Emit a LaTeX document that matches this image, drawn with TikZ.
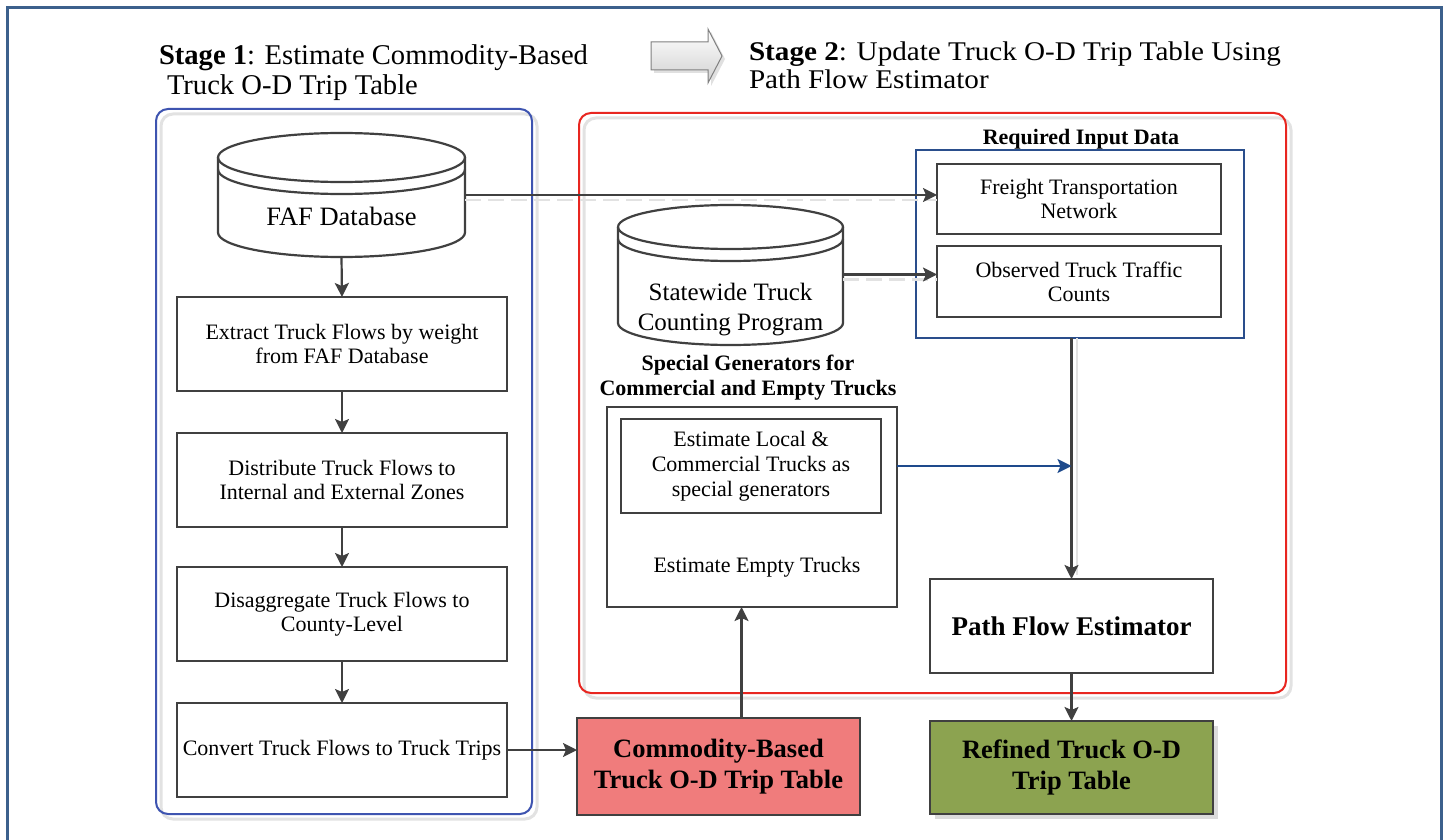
\documentclass[tikz,border=0pt]{standalone}
\usepackage{fontspec}
\setmainfont{Liberation Serif}
\newfontfamily\widehead[FakeStretch=1.08]{Liberation Serif}
\usetikzlibrary{arrows.meta,calc,shadows}

\definecolor{framec}{RGB}{60,96,140}
\definecolor{boxline}{RGB}{64,64,64}
\definecolor{stageblue}{RGB}{62,84,176}
\definecolor{stagered}{RGB}{232,38,32}
\definecolor{inputblue}{RGB}{42,78,140}
\definecolor{flowblue}{RGB}{30,74,140}
\definecolor{salmonfill}{RGB}{240,124,124}
\definecolor{olivefill}{RGB}{140,163,80}
\definecolor{shade}{RGB}{226,226,226}
\definecolor{arrowgray}{RGB}{128,128,128}

\newcommand{\pxfont}[2]{\fontsize{#1pt}{#2pt}\selectfont}

% database drum: #1 left, #2 right, #3 top-ellipse centre y, #4 bottom-ellipse centre y, #5 y radius
\newcommand{\drum}[5]{%
  \pgfmathsetmacro{\drumrx}{(#2-#1)/2}%
  \pgfmathsetmacro{\drumcx}{(#1+#2)/2}%
  \fill[white] (#1,#3) -- (#1,#4) arc[start angle=180,end angle=360,x radius=\drumrx pt,y radius=#5pt]
     -- (#2,#3) arc[start angle=0,end angle=180,x radius=\drumrx pt,y radius=#5pt] -- cycle;
  \draw[dbline] (#1,#3) -- (#1,#4) arc[start angle=180,end angle=360,x radius=\drumrx pt,y radius=#5pt] -- (#2,#3);
  \draw[dbline] (\drumcx,#3) ellipse[x radius=\drumrx pt,y radius=#5pt];
  \draw[dbline] (#1,#3+12) arc[start angle=180,end angle=360,x radius=\drumrx pt,y radius=#5pt];
}

\begin{document}
\begin{tikzpicture}[x=1pt,y=-1pt,
  every node/.style={inner sep=0pt,outer sep=0pt},
  container/.style={draw,rounded corners=12pt,line width=2pt,fill=none,
    drop shadow={shadow xshift=5pt,shadow yshift=-5pt,fill=none,draw=shade,line width=3pt,opacity=1}},
  proc/.style={draw=boxline,line width=2.2pt,fill=white,align=center,font=\pxfont{22}{24}},
  inbox/.style={draw=boxline,line width=2.2pt,fill=white,align=center,font=\pxfont{22}{24}},
  result/.style={draw=boxline,line width=2.2pt,align=center,font=\bfseries\pxfont{26.5}{31}},
  dbbox/.style={draw=none},
  dbline/.style={draw=boxline,line width=2.2pt},
  flow/.style={draw=boxline,line width=2.2pt,-{Stealth[length=14pt,width=14pt,inset=3pt]}},
  blueflow/.style={draw=flowblue,line width=2pt,-{Stealth[length=14pt,width=14pt,inset=3pt]}},
  connshadow/.style={draw=shade,line width=2.5pt,dash pattern=on 16pt off 7pt},
  heading/.style={anchor=base west,font=\pxfont{28.6}{33}},
  heading2/.style={anchor=base west,font=\widehead\pxfont{27}{30}},
  caption/.style={align=center,font=\bfseries\pxfont{21}{25}}]

\useasboundingbox (0,0) rectangle (1446,840);
\fill[white] (0,0) rectangle (1446,840);

% outer frame, open at the bottom
\draw[framec,line width=3pt] (7,842) -- (7,8) -- (1441,8) -- (1441,842);

% stage headings
\node[heading] (s1a) at (159,65) {\textbf{Stage 1}: Estimate Commodity-Based};
\node[heading] (s1b) at (167,95) {Truck O-D Trip Table};
\node[heading2] (s2a) at (749,61) {\textbf{Stage 2}: Update Truck O-D Trip Table Using};
\node[heading2] (s2b) at (749,89) {Path Flow Estimator};

% stage-to-stage block arrow
\path[draw=arrowgray,line width=1pt,top color=white,bottom color=black!18,
      drop shadow={shadow xshift=3pt,shadow yshift=-3pt,fill=black!12,opacity=1}]
  (651,42) -- (708,42) -- (708,29) -- (722,56) -- (708,83) -- (708,70) -- (651,70) -- cycle;

% stage containers
\node[container,draw=stageblue,minimum width=376,minimum height=705] (stage1) at (344,461.5) {};
\node[container,draw=stagered,minimum width=707,minimum height=580] (stage2) at (932.5,403) {};

% databases
\drum{218}{465}{157.5}{232.5}{24.5}
\node[dbbox,minimum width=247,minimum height=124,
      label={[font=\pxfont{26.5}{30},yshift=-21pt]center:FAF Database}] (faf) at (341.5,195) {};
\drum{618}{843}{227}{323}{22}
\node[dbbox,minimum width=225,minimum height=141,
      label={[font=\pxfont{25}{30},align=center,yshift=-35pt]center:Statewide Truck\\Counting Program}] (count) at (730.5,274.5) {};

% stage 1 steps
\node[proc,minimum width=330,minimum height=94] (extract) at (342,344) {Extract Truck Flows by weight\\from FAF Database};
\node[proc,minimum width=330,minimum height=94] (distrib) at (342,480) {Distribute Truck Flows to\\Internal and External Zones};
\node[proc,minimum width=330,minimum height=94] (disagg) at (342,614) {Disaggregate Truck Flows to\\County-Level};
\node[proc,minimum width=330,minimum height=94] (convert) at (342,750) {Convert Truck Flows to Truck Trips};

% required input data
\node[caption,font=\bfseries\pxfont{22}{24},anchor=base] (reqlbl) at (1081,145) {Required Input Data};
\node[draw=inputblue,line width=2pt,minimum width=328,minimum height=188] (input) at (1080,244) {};
\node[inbox,minimum width=284,minimum height=70] (freight) at (1079,199) {Freight Transportation\\Network};
\node[inbox,minimum width=284,minimum height=71] (observed) at (1079,281.5) {Observed Truck Traffic\\Counts};

% special generators
\node[caption,font=\bfseries\pxfont{22}{25}] (speclbl) at (748,378) {Special Generators for\\Commercial and Empty Trucks};
\node[draw=boxline,line width=2.2pt,minimum width=290,minimum height=200] (special) at (752,507) {};
\node[proc,minimum width=260,minimum height=94,font=\pxfont{22}{25}] (local) at (751,466) {Estimate Local \&\\Commercial Trucks as\\special generators};
\node[font=\pxfont{22}{25}] (empty) at (757,567) {Estimate Empty Trucks};

% estimator and tables
\node[result,fill=white,font=\bfseries\pxfont{27}{30},minimum width=283,minimum height=94] (pfe) at (1071.5,626) {Path Flow Estimator};
\node[result,fill=salmonfill,minimum width=283,minimum height=97] (commodity) at (718.5,766.5) {Commodity-Based\\Truck O-D Trip Table};
\node[result,fill=olivefill,minimum width=283,minimum height=93,
      drop shadow={shadow xshift=5pt,shadow yshift=-5pt,fill=black!14,opacity=1}] (refined) at (1071.5,767.5) {Refined Truck O-D\\Trip Table};

% connector shadows
\draw[connshadow] ([yshift=-5pt]faf.east) -- ([yshift=-5pt]faf.east -| freight.west);
\draw[connshadow] ([yshift=-5pt]count.east) -- ([yshift=-5pt]count.east -| observed.west);
\draw[draw=shade,line width=2pt] ([xshift=5pt]pfe.north |- input.south) -- ([xshift=5pt,yshift=4pt]pfe.north);

% connectors
\draw[flow] (faf.south) -- (extract.north);
\draw[flow] (extract) -- (distrib);
\draw[flow] (distrib) -- (disagg);
\draw[flow] (disagg) -- (convert);
\draw[flow] (convert.east) -- (convert.east -| commodity.west);
\draw[flow] (faf.east) -- (faf.east -| freight.west);
\draw[flow] (count.east) -- (count.east -| observed.west);
\draw[flow] (pfe.north |- input.south) -- (pfe.north);
\coordinate (merge) at (local.east -| pfe.north);
\draw[blueflow] (local.east -| special.east) -- (merge);
\draw[flow] ([xshift=23pt]commodity.north) -- ([xshift=23pt]commodity.north |- special.south);
\draw[flow] (pfe) -- (refined);

\end{tikzpicture}
\end{document}
